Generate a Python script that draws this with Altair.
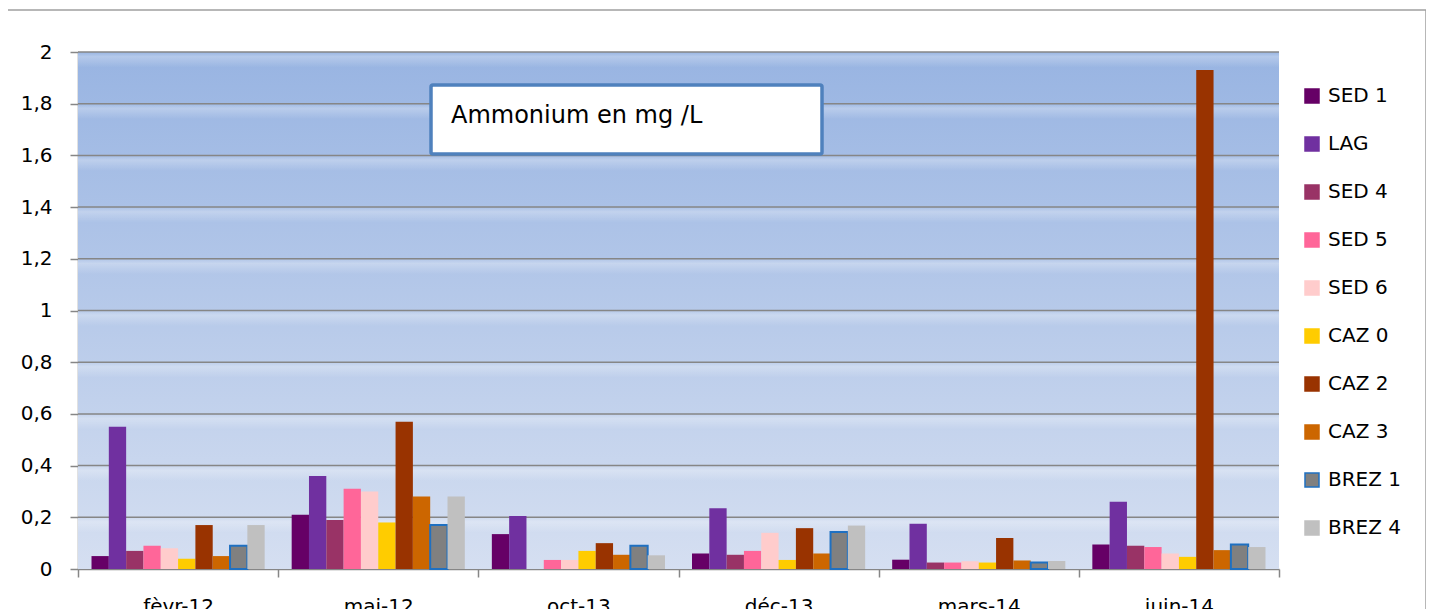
import altair as alt
import pandas as pd

# ---- data ----
dates = ["fèvr-12", "mai-12", "oct-13", "déc-13", "mars-14", "juin-14"]
series = ["SED 1", "LAG", "SED 4", "SED 5", "SED 6", "CAZ 0", "CAZ 2", "CAZ 3", "BREZ 1", "BREZ 4"]

sed1 = [0.05, 0.21, 0.135, 0.06, 0.036, 0.095]
lag = [0.55, 0.36, 0.205, 0.235, 0.175, 0.26]
sed4 = [0.07, 0.19, None, 0.055, 0.025, 0.09]
sed5 = [0.09, 0.31, 0.035, 0.07, 0.025, 0.085]
sed6 = [0.08, 0.30, 0.035, 0.14, 0.03, 0.06]
caz0 = [0.04, 0.18, 0.07, 0.035, 0.025, 0.047]
caz2 = [0.17, 0.57, 0.10, 0.158, 0.12, 1.93]
caz3 = [0.05, 0.28, 0.055, 0.06, 0.033, 0.073]
brez1 = [0.09, 0.17, 0.09, 0.143, 0.025, 0.095]
brez4 = [0.17, 0.28, 0.053, 0.168, 0.031, 0.085]

fills = ["#660066", "#7030a0", "#993366", "#ff6699", "#ffcccc",
         "#ffcc00", "#993300", "#cc6600", "#808080", "#c0c0c0"]
strokes = ["#660066", "#7030a0", "#993366", "#ff6699", "#ffcccc",
           "#ffcc00", "#993300", "#cc6600", "#1f70c1", "#c0c0c0"]

grid_values = [0.2, 0.4, 0.6, 0.8, 1.0, 1.2, 1.4, 1.6, 1.8, 2.0]
tick_values = [0, 0.2, 0.4, 0.6, 0.8, 1.0, 1.2, 1.4, 1.6, 1.8, 2.0]
title_text = "Ammonium en mg /L"

all_values = [sed1, lag, sed4, sed5, sed6, caz0, caz2, caz3, brez1, brez4]
rows = []
for s, vals in zip(series, all_values):
    for d, v in zip(dates, vals):
        if v is not None:
            rows.append({"date": d, "series": s, "value": v})
df = pd.DataFrame(rows)
grid_df = pd.DataFrame({"v": grid_values})
one = pd.DataFrame({"a": [0]})

W, H = 1201, 517
FONT = "DejaVu Sans"
GRAY = "#868686"
yscale = alt.Scale(domain=[0, 2], nice=False)
yaxis = alt.Axis(values=tick_values, tickSize=8, tickColor=GRAY,
                 tickWidth=1.5, domainColor=GRAY, domainWidth=1.5,
                 labelFont=FONT, labelFontSize=20, labelColor="#000000",
                 labelPadding=18, grid=False, title=None,
                 labelExpr="replace(format(datum.value, '.1~f'), '.', ',')")

bg = alt.Chart(one).mark_rect(
    color=alt.Gradient(
        gradient="linear",
        stops=[alt.GradientStop(color="#98b4e2", offset=0),
               alt.GradientStop(color="#d5dff1", offset=1)],
        x1=0, x2=0, y1=0, y2=1,
    )
).encode(x=alt.value(0), x2=alt.value(W), y=alt.value(0), y2=alt.value(H))

stripes = alt.Chart(grid_df).transform_calculate(
    v2="datum.v - 0.06"
).mark_rect(
    color=alt.Gradient(
        gradient="linear",
        stops=[alt.GradientStop(color="rgba(255,255,255,0)", offset=0),
               alt.GradientStop(color="rgba(255,255,255,0.28)", offset=0.3),
               alt.GradientStop(color="rgba(255,255,255,0)", offset=1)],
        x1=0, x2=0, y1=0, y2=1,
    )
).encode(
    x=alt.value(0), x2=alt.value(W),
    y=alt.Y("v:Q", scale=yscale, axis=yaxis, title=None),
    y2="v2:Q",
)

grid = alt.Chart(grid_df).mark_rule(color=GRAY, strokeWidth=1.5).encode(
    y=alt.Y("v:Q", scale=yscale, axis=yaxis, title=None)
)

legend = alt.Legend(
    orient="none", legendX=1224, legendY=34, title=None,
    symbolType="square", symbolSize=196, symbolStrokeWidth=1.5,
    labelFont=FONT, labelFontSize=20, labelColor="#000000",
    rowPadding=28, labelOffset=6, padding=0,
)

bars = alt.Chart(df).mark_bar().encode(
    x=alt.X("date:N", sort=dates, title=None,
            scale=alt.Scale(paddingInner=0, paddingOuter=0),
            axis=alt.Axis(labelAngle=0, tickBand="extent", tickSize=8,
                          tickColor=GRAY, tickWidth=1.5, domainColor=GRAY,
                          domainWidth=1.5, labelFont=FONT, labelFontSize=20,
                          labelColor="#000000", labelPadding=19, grid=False)),
    xOffset=alt.XOffset("series:N", sort=series,
                        scale=alt.Scale(paddingInner=0, paddingOuter=0.78)),
    y=alt.Y("value:Q", scale=yscale, title=None, axis=yaxis),
    color=alt.Color("series:N", sort=series,
                    scale=alt.Scale(domain=series, range=fills), legend=legend),
    stroke=alt.Stroke("series:N", sort=series,
                      scale=alt.Scale(domain=series, range=strokes), legend=legend),
    strokeWidth=alt.condition("datum.series === 'BREZ 1'", alt.value(2), alt.value(0)),
)

frame = alt.Chart(one).mark_rect(fill="transparent", stroke="#a0a0a0", strokeWidth=1.5).encode(
    x=alt.value(-71), x2=alt.value(1348), y=alt.value(-42), y2=alt.value(640)
)

box = alt.Chart(one).mark_rect(fill="#ffffff", stroke="#4f81bd", strokeWidth=3.5, cornerRadius=2).encode(
    x=alt.value(353), x2=alt.value(744), y=alt.value(33), y2=alt.value(102)
)

label = alt.Chart(one).mark_text(
    text=title_text, font=FONT, fontSize=24, align="left", baseline="alphabetic", color="#000000"
).encode(x=alt.value(373), y=alt.value(71))

chart = alt.layer(bg, stripes, grid, bars, frame, box, label).properties(
    width=W, height=H,
    autosize=alt.AutoSizeParams(type="none"),
    padding={"left": 70, "top": 44, "right": 147, "bottom": 40},
    background="#ffffff",
).configure_view(stroke=None)

chart.save("out.html", embed_options={"renderer": "svg", "actions": False})
